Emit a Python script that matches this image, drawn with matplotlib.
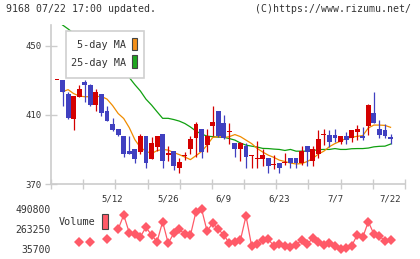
import matplotlib
matplotlib.use("Agg")
import matplotlib.pyplot as plt
import numpy as np
from matplotlib.patches import Rectangle

# ---------------- data ----------------
dates = ["4/23","4/24","4/25","4/28","4/30","5/1","5/2","5/7","5/8","5/9",
         "5/12","5/13","5/14","5/15","5/16","5/19","5/20","5/21","5/22","5/23",
         "5/26","5/27","5/28","5/29","5/30","6/2","6/3","6/4","6/5","6/6",
         "6/9","6/10","6/11","6/12","6/13","6/16","6/17","6/18","6/19","6/20",
         "6/23","6/24","6/25","6/26","6/27","6/30","7/1","7/2","7/3","7/4",
         "7/7","7/8","7/9","7/10","7/11","7/14","7/15","7/16","7/17","7/18",
         "7/22"]
label_dates = ["5/12", "5/26", "6/9", "6/23", "7/7", "7/22"]

open_ = [430, 430, 422, 407.5, 420.5, 429, 427, 415.5, 422, 412,
         404.5, 402, 397.5, 389, 390.5, 388.5, 397.5, 384.5, 391.5, 399,
         386.5, 389, 379.5, 386.3, 390, 396.5, 402, 392.5, 403.5, 412,
         405.5, 399.8, 394, 390, 392, 386, 384.6, 384.5, 385, 380.8,
         382, 382.3, 385, 385, 382, 392, 383.5, 387.5, 398.5, 398.5,
         398.5, 394.5, 397.5, 396.5, 400, 398, 403.5, 411, 402, 401,
         397]
high = [430, 430, 423, 421, 427, 430, 428, 425, 422, 415,
        408, 402, 397.5, 397.5, 390.5, 399, 397.5, 397, 397.5, 399,
        392, 389, 385, 388.5, 397.5, 406, 402, 402, 415, 412,
        410, 405.5, 394, 394.5, 394, 386.5, 395, 390.5, 385, 386.5,
        382, 388, 385, 385, 392, 392, 392, 401, 402, 401,
        402, 398, 400, 401, 404, 403, 416.5, 423.5, 407, 405,
        399]
low = [430, 415, 407.5, 401, 420.5, 417.5, 415, 412, 409.5, 406.5,
       400.5, 398, 385.5, 387.5, 382, 387.5, 379, 384.5, 389, 379,
       383.5, 378, 376.5, 384, 387.5, 385.5, 385, 388.5, 397.5, 397,
       396, 393, 385.5, 383.5, 379.5, 379.5, 379.5, 380.5, 376.5, 378.5,
       376.5, 381, 379.5, 379.5, 381, 380.5, 380.5, 385, 392.5, 391.5,
       394.5, 393, 393, 394.5, 395.5, 395.5, 398.5, 405.5, 396.5, 396.5,
       393]
close = [430, 423.5, 408, 421, 425, 427, 415.5, 423, 411, 406.5,
         401, 398.5, 387.5, 387.5, 384.5, 397.5, 382, 394, 397.5, 383.5,
         388, 380.5, 382.5, 386.5, 396, 404.5, 388.5, 397.5, 406, 397.5,
         396.5, 400, 390.5, 393.8, 385.5, 386.5, 385, 386.5, 380.5, 381.2,
         379.5, 382.7, 382, 382, 389, 388.5, 390.5, 396, 399, 394.5,
         396.5, 397.5, 395.5, 401, 402, 396.5, 415.5, 405.5, 398.5, 397.5,
         396]

ma5 = [np.nan, 423.4, 424.6, 422.3, 420.9, 420.5, 420.5, 420.6, 420.7, 419.1,
       415.4, 410.8, 407.9, 402.6, 395.7, 391.1, 389.0, 387.6, 389.3, 390.0,
       389.6, 388.2, 387.0, 385.6, 384.1, 386.4, 388.8, 392.5, 396.9, 397.4,
       396.9, 397.4, 398.6, 397.4, 395.4, 393.4, 390.6, 388.5, 386.7, 385.4,
       383.8, 383.0, 382.1, 381.6, 381.8, 383.0, 384.7, 387.3, 389.0, 391.6,
       393.4, 394.8, 396.4, 397.0, 397.6, 398.0, 402.4, 404.1, 404.1, 403.9,
       402.8]
ma25 = [np.nan, 462.0, 459.7, 457.2, 454.6, 452.0, 449.5, 447.0, 444.4, 441.8,
        439.2, 436.7, 434.2, 431.6, 427.5, 423.8, 419.1, 415.7, 411.8, 408.0,
        408.0, 407.3, 406.4, 405.0, 403.0, 400.6, 398.9, 397.7, 397.4, 397.1,
        397.0, 396.3, 395.4, 393.7, 392.5, 391.9, 391.4, 390.6, 390.5, 390.2,
        390.0, 389.4, 390.0, 389.0, 389.0, 389.0, 389.3, 389.9, 390.0, 390.0,
        390.5, 390.0, 390.0, 390.4, 390.5, 390.5, 390.8, 391.5, 391.8, 391.9,
        393.1]

volume = [np.nan, np.nan, np.nan, np.nan, 115340, np.nan, 115340, np.nan, np.nan, 142650,
          np.nan, 256420, 419120, 217740, 199540, 172230, 279180, 191570, 115340, 342890,
          97140, 210910, 256420, 199540, 188160, 456670, 488000, 235000, 328000, 256420,
          193000, 97140, 111930, 134680, 407750, 69830, 85760, 134680, 142650, 69830,
          85760, 69830, 51630, 77800, 134680, 85760, 154030, 115340, 77800, 97140,
          69830, 36000, 47080, 66420, 191570, 165400, 342890, 202950, 183610, 119900,
          134680]

vol_ticks = [35700, 263250, 490800]
price_ticks = [370, 410, 450]

# ---------------- style ----------------
RED = "#D40000"
BLUE = "#4040C0"
ORANGE = "#F08C00"
GREEN = "#10A010"
VOLC = "#FF5A68"
GRID = "#CCCCCC"
TXT = "#333333"
MONO = "DejaVu Sans Mono"

W, H = 420, 259
fig = plt.figure(figsize=(W / 100, H / 100), dpi=100)
fig.patch.set_facecolor("white")

def fx(px):
    return px / W

def fy(py):
    return 1 - py / H

x = np.arange(len(close))
o = np.array(open_, float)
c = np.array(close, float)
hi = np.array(high, float)
lo = np.array(low, float)
XL = (-1.08, 62.6)

# ---------------- price axes ----------------
ax = fig.add_axes([fx(51), fy(184), fx(405) - fx(51), fy(25) - fy(184)])
ax.set_xlim(*XL)
ax.set_ylim(370, 462)
for s in ["top", "right"]:
    ax.spines[s].set_visible(False)
for s in ["left", "bottom"]:
    ax.spines[s].set_color(GRID)
    ax.spines[s].set_linewidth(1.2)

ax.plot(x, ma25, color=GREEN, lw=0.9, zorder=2)
ax.plot(x, ma5, color=ORANGE, lw=0.9, zorder=2)

up = c >= o
cols = np.where(up, RED, BLUE)
ax.vlines(x, lo, hi, colors=cols, lw=0.9, zorder=3)
bottom = np.minimum(o, c)
height = np.maximum(np.abs(c - o), 0.6)
ax.bar(x, height, bottom=bottom, width=0.88, color=cols, lw=0, zorder=4)

ax.set_yticks(price_ticks)
ax.set_yticklabels([str(v) for v in price_ticks], fontfamily=MONO, fontsize=6.5, color=TXT)
ax.tick_params(axis="y", direction="inout", length=8, width=1, color=GRID, pad=3)

label_pos = [dates.index(d) for d in label_dates]
ax.set_xticks(label_pos)
ax.set_xticklabels(label_dates, fontfamily=MONO, fontsize=6.5, color=TXT)
ax.tick_params(axis="x", which="major", length=0, pad=7.5)
ax.set_xticks(np.linspace(XL[0], XL[1], 12), minor=True)
ax.tick_params(axis="x", which="minor", direction="inout", length=7, width=1, color=GRID)

# ---------------- volume axes ----------------
vpx = (490800 - 35700) / 40.0
ax2 = fig.add_axes([fx(51), fy(256), fx(405) - fx(51), fy(204) - fy(256)])
ax2.set_xlim(*XL)
ax2.set_ylim(35700 - 7.3 * vpx, 490800 + 4.7 * vpx)
for s in ax2.spines.values():
    s.set_visible(False)
ax2.plot(x, volume, color=VOLC, lw=0.9, marker="D", markersize=5.2,
         markeredgewidth=0, markerfacecolor=VOLC)
ax2.set_xticks([])
ax2.set_yticks(vol_ticks)
ax2.set_yticklabels([str(v) for v in vol_ticks], fontfamily=MONO, fontsize=7, color=TXT)
ax2.tick_params(axis="y", length=0, pad=0)

# ---------------- overlay (texts, legends) ----------------
ov = fig.add_axes([0, 0, 1, 1], facecolor="none")
ov.set_xlim(0, W)
ov.set_ylim(H, 0)
ov.axis("off")

ov.text(6, 9, "9168 07/22 17:00 updated.", fontfamily=MONO, fontsize=7.1,
        color=TXT, va="center", ha="left")
ov.text(411, 9, "(C)https://www.rizumu.net/", fontfamily=MONO, fontsize=7.1,
        color=TXT, va="center", ha="right")

ov.add_patch(Rectangle((65.5, 30.5), 78, 47, facecolor="white", edgecolor="#D0D0D0", lw=1.2))
ov.text(126, 45.5, "5-day MA", fontfamily=MONO, fontsize=7.3, color=TXT, ha="right", va="center")
ov.text(126, 63, "25-day MA", fontfamily=MONO, fontsize=7.3, color=TXT, ha="right", va="center")
ov.add_patch(Rectangle((132, 37.5), 5, 12.5, facecolor="#F39019", edgecolor="#444444", lw=0.8))
ov.add_patch(Rectangle((132, 55), 5, 12.5, facecolor="#1FA61F", edgecolor="#444444", lw=0.8))

ov.text(95, 222, "Volume", fontfamily=MONO, fontsize=7.3, color=TXT, ha="right", va="center")
ov.add_patch(Rectangle((102, 213.5), 5.5, 15.5, facecolor=VOLC, edgecolor="#444444", lw=0.8))

fig.savefig("out.png", dpi=100, facecolor="white")
